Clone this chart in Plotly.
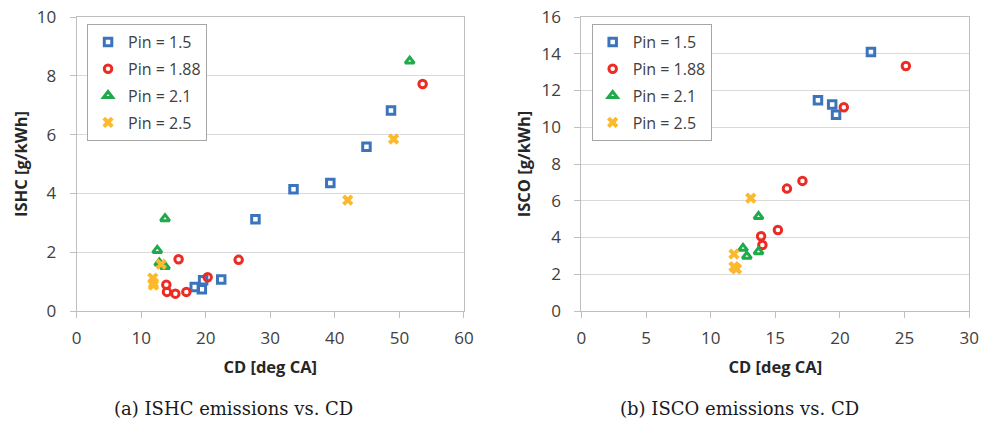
import plotly.graph_objects as go

# ---------------- data ----------------
series_names = ["Pin = 1.5", "Pin = 1.88", "Pin = 2.1", "Pin = 2.5"]

# (a) ISHC vs CD
hc_p15_x = [18.3, 19.4, 19.6, 22.4, 27.7, 33.6, 39.3, 44.9, 48.7]
hc_p15_y = [0.82, 0.74, 1.05, 1.07, 3.12, 4.14, 4.35, 5.59, 6.82]
hc_p188_x = [13.9, 14.0, 15.3, 17.0, 15.8, 20.3, 25.1, 53.6]
hc_p188_y = [0.89, 0.65, 0.59, 0.65, 1.76, 1.15, 1.74, 7.72]
hc_p21_x = [13.7, 12.5, 12.8, 13.7, 51.6]
hc_p21_y = [3.14, 2.06, 1.63, 1.51, 8.50]
hc_p25_x = [11.8, 11.9, 11.9, 13.1, 42.0, 49.1]
hc_p25_y = [1.12, 0.95, 0.88, 1.59, 3.77, 5.85]

# (b) ISCO vs CD
co_p15_x = [18.3, 19.4, 19.7, 22.4]
co_p15_y = [11.47, 11.24, 10.68, 14.09]
co_p188_x = [13.9, 14.0, 15.2, 15.9, 17.1, 20.3, 25.1]
co_p188_y = [4.07, 3.59, 4.41, 6.66, 7.08, 11.09, 13.33]
co_p21_x = [12.5, 12.8, 13.7, 13.7]
co_p21_y = [3.41, 2.98, 3.23, 5.14]
co_p25_x = [11.8, 11.8, 12.0, 11.9, 13.1]
co_p25_y = [3.10, 2.41, 2.29, 2.35, 6.14]

x_ticks_a = [0, 10, 20, 30, 40, 50, 60]
y_ticks_a = [0, 2, 4, 6, 8, 10]
x_ticks_b = [0, 5, 10, 15, 20, 25, 30]
y_ticks_b = [0, 2, 4, 6, 8, 10, 12, 14, 16]

x_title = "CD [deg CA]"
y_title_a = "ISHC [g/kWh]"
y_title_b = "ISCO [g/kWh]"
caption_a = "(a) ISHC emissions vs. CD"
caption_b = "(b) ISCO emissions vs. CD"

# ---------------- styles ----------------
colors = ["#3B74BD", "#EC2B23", "#1FAA4B", "#FDB92C"]
symbols = ["square-open", "circle-open", "triangle-up-open", "x"]
TICKFONT = dict(family="Open Sans", size=17, color="#404040")
TITLEFONT = dict(family="Open Sans", size=16.5, color="#262626")
GRID = "#D9D9D9"
LINE = "#BFBFBF"

fig = go.Figure()

sets = [
    (hc_p15_x, hc_p15_y, co_p15_x, co_p15_y),
    (hc_p188_x, hc_p188_y, co_p188_x, co_p188_y),
    (hc_p21_x, hc_p21_y, co_p21_x, co_p21_y),
    (hc_p25_x, hc_p25_y, co_p25_x, co_p25_y),
]

for i, (ax_, ay_, bx_, by_) in enumerate(sets):
    if symbols[i] == "x":
        mk = dict(symbol="x", size=10, color=colors[i], line=dict(width=0))
    elif symbols[i] == "triangle-up-open":
        mk = dict(symbol=symbols[i], size=8, color=colors[i],
                  line=dict(width=3, color=colors[i]))
    else:
        mk = dict(symbol=symbols[i], size=7.5, color=colors[i],
                  line=dict(width=3, color=colors[i]))
    fig.add_trace(go.Scatter(x=ax_, y=ay_, mode="markers", name=series_names[i],
                             marker=mk, xaxis="x", yaxis="y",
                             legend="legend", legendgroup="a%d" % i))
    fig.add_trace(go.Scatter(x=bx_, y=by_, mode="markers", name=series_names[i],
                             marker=mk, xaxis="x2", yaxis="y2",
                             legend="legend2", legendgroup="b%d" % i))

W, H = 991, 427
TOP, BOT = 17, 311
plot_h = BOT - TOP

axis_common = dict(showline=True, linecolor=LINE, linewidth=1, mirror=True,
                   ticks="outside", ticklen=6, tickcolor=LINE, tickfont=TICKFONT,
                   zeroline=False)

legend_common = dict(bgcolor="white", bordercolor="#A6A6A6", borderwidth=1,
                     font=dict(family="Open Sans", size=16, color="#404040"),
                     tracegroupgap=3, itemsizing="trace", itemwidth=30,
                     xanchor="left", yanchor="top", xref="paper", yref="paper")

leg_y = 1 - (24 - TOP) / plot_h
cap_y = -(408 - BOT) / plot_h
CAPFONT = dict(family="DejaVu Serif", size=18, color="#1a1a1a")

fig.update_layout(
    width=W, height=H,
    margin=dict(l=0, r=0, t=TOP, b=H - BOT),
    paper_bgcolor="white", plot_bgcolor="white",
    xaxis=dict(domain=[72.7 / W, 466 / W], range=[0, 60], tickvals=x_ticks_a,
               showgrid=False, anchor="y", ticklabelstandoff=6,
               title=dict(text="<b>%s</b>" % x_title, font=TITLEFONT, standoff=13),
               **axis_common),
    yaxis=dict(range=[0, 10], tickvals=y_ticks_a, showgrid=True, gridcolor=GRID,
               anchor="x", ticklabelstandoff=10,
               title=dict(text="<b>%s</b>" % y_title_a, font=TITLEFONT, standoff=4),
               **axis_common),
    xaxis2=dict(domain=[585.3 / W, 979 / W], range=[0, 30], tickvals=x_ticks_b,
                showgrid=False, anchor="y2", ticklabelstandoff=6,
                title=dict(text="<b>%s</b>" % x_title, font=TITLEFONT, standoff=13),
                **axis_common),
    yaxis2=dict(range=[0, 16], tickvals=y_ticks_b, showgrid=True, gridcolor=GRID,
                anchor="x2", ticklabelstandoff=10,
                title=dict(text="<b>%s</b>" % y_title_b, font=TITLEFONT, standoff=6),
                **axis_common),
    legend=dict(x=83.3 / W, y=leg_y, **legend_common),
    legend2=dict(x=595.7 / W, y=leg_y, **legend_common),
    annotations=[
        dict(text=caption_a, x=232 / W, y=cap_y, xref="paper", yref="paper",
             showarrow=False, font=CAPFONT, xanchor="center", yanchor="middle"),
        dict(text=caption_b, x=746 / W, y=cap_y, xref="paper", yref="paper",
             showarrow=False, font=CAPFONT, xanchor="center", yanchor="middle"),
    ],
)

fig.write_html("out.html")
